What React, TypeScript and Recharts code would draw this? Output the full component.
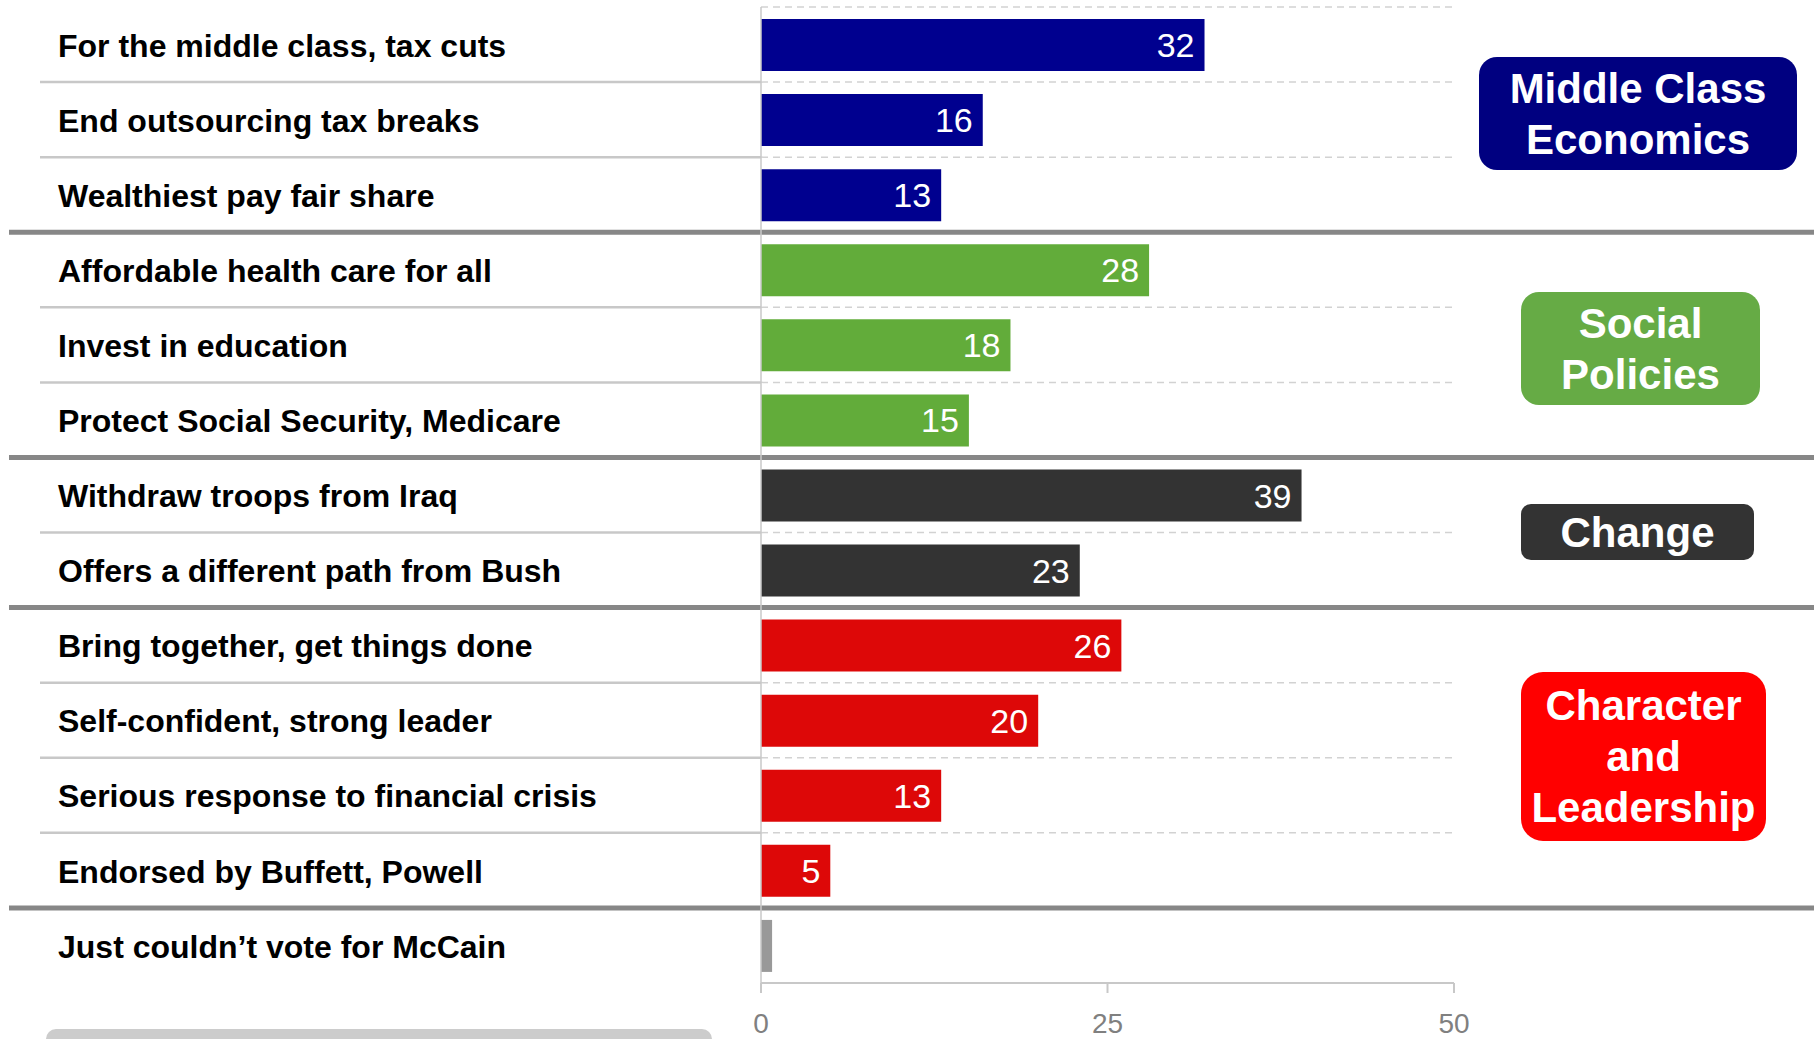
import { BarChart, Bar, XAxis, YAxis, Cell, LabelList, ReferenceLine } from 'recharts';

const labels = [
  'For the middle class, tax cuts',
  'End outsourcing tax breaks',
  'Wealthiest pay fair share',
  'Affordable health care for all',
  'Invest in education',
  'Protect Social Security, Medicare',
  'Withdraw troops from Iraq',
  'Offers a different path from Bush',
  'Bring together, get things done',
  'Self-confident, strong leader',
  'Serious response to financial crisis',
  'Endorsed by Buffett, Powell',
  'Just couldn\u2019t vote for McCain',
];
const values = [32, 16, 13, 28, 18, 15, 39, 23, 26, 20, 13, 5, 0.8];
const groups = ['econ', 'econ', 'econ', 'social', 'social', 'social', 'change', 'change', 'lead', 'lead', 'lead', 'lead', 'other'];
const xTicks = [0, 25, 50];

const boxKeys = ['econ', 'social', 'change', 'lead'];
const boxTitles = [['Middle Class', 'Economics'], ['Social', 'Policies'], ['Change'], ['Character', 'and', 'Leadership']];

const barColors: Record<string, string> = {
  econ: '#00008f',
  social: '#62ac3a',
  change: '#333333',
  lead: '#dd0808',
  other: '#999999',
};

const boxStyles: Record<string, React.CSSProperties> = {
  econ: { left: 1479, top: 57, width: 318, height: 113, borderRadius: 18, background: '#000080' },
  social: { left: 1521, top: 292, width: 239, height: 113, borderRadius: 18, background: '#66ab45' },
  change: { left: 1521, top: 504, width: 233, height: 56, borderRadius: 10, background: '#333333' },
  lead: { left: 1521, top: 672, width: 245, height: 169, borderRadius: 22, background: '#ff0000' },
};

const rows = labels.map((label, i) => ({ label, value: values[i], group: groups[i] }));

const FONT = '"Liberation Sans", Arial, Helvetica, sans-serif';

function RowLabel({ y, payload }: any) {
  return (
    <text x={58} y={y} dy="0.38em" fontSize={32} fontWeight="bold" fill="#000">
      {payload.value}
    </text>
  );
}

// line at the top edge of each row band: dashed in the plot, plus a
// thin rule under the label or a thick rule across the page between groups
function boundary(kind: string) {
  return (p: any) => {
    const { x1, x2, y1 } = p;
    return (
      <g>
        <line x1={x1} x2={x2} y1={y1} y2={y1} stroke="#d2d2d2" strokeWidth={1.5} strokeDasharray="7 5" />
        {kind === 'thin' && <line x1={40} x2={x1} y1={y1} y2={y1} stroke="#c8c8c8" strokeWidth={2.5} />}
        {kind === 'thick' && <line x1={9} x2={1814} y1={y1} y2={y1} stroke="#878787" strokeWidth={5} />}
      </g>
    );
  };
}

export default function App() {
  return (
    <div
      style={{
        position: 'absolute', left: 0, top: 0, width: 1814, height: 1039,
        overflow: 'hidden', background: '#fff', fontFamily: FONT,
      }}
    >
      <BarChart
        layout="vertical"
        width={1814}
        height={1039}
        data={rows}
        margin={{ top: 7, right: 360, bottom: 0, left: 0 }}
      >
        <XAxis
          type="number"
          domain={[0, 50]}
          ticks={xTicks}
          height={56}
          axisLine={{ stroke: '#c8c8c8', strokeWidth: 2 }}
          tickLine={{ stroke: '#c8c8c8', strokeWidth: 2 }}
          tickSize={10}
          tickMargin={20}
          tick={{ fill: '#808080', fontSize: 28 }}
        />
        <YAxis
          type="category"
          dataKey="label"
          width={761}
          interval={0}
          tick={<RowLabel />}
          tickLine={false}
          axisLine={{ stroke: '#c8c8c8', strokeWidth: 1.5 }}
        />
        {labels.map((l, i) => {
          const kind = i === 0 ? 'none' : groups[i] !== groups[i - 1] ? 'thick' : 'thin';
          return <ReferenceLine key={l} y={l} position="start" shape={boundary(kind)} />;
        })}
        <Bar dataKey="value" barSize={52} isAnimationActive={false}>
          {rows.map(r => (
            <Cell key={r.label} fill={barColors[r.group]} />
          ))}
          <LabelList
            dataKey="value"
            position="insideRight"
            offset={10}
            fill="#fff"
            fontSize={34}
            formatter={(v: any) => (v >= 1 ? v : '')}
          />
        </Bar>
      </BarChart>

      {boxKeys.map((k, i) => (
        <div
          key={k}
          style={{
            position: 'absolute', ...boxStyles[k],
            display: 'flex', flexDirection: 'column', alignItems: 'center', justifyContent: 'center',
            color: '#fff', fontWeight: 'bold', fontSize: 42, lineHeight: '51px', textAlign: 'center',
          }}
        >
          {boxTitles[i].map(t => <div key={t}>{t}</div>)}
        </div>
      ))}

      <div
        style={{
          position: 'absolute', left: 46, top: 1029, width: 666, height: 30,
          background: '#cccccc', borderRadius: 10,
        }}
      />
    </div>
  );
}
